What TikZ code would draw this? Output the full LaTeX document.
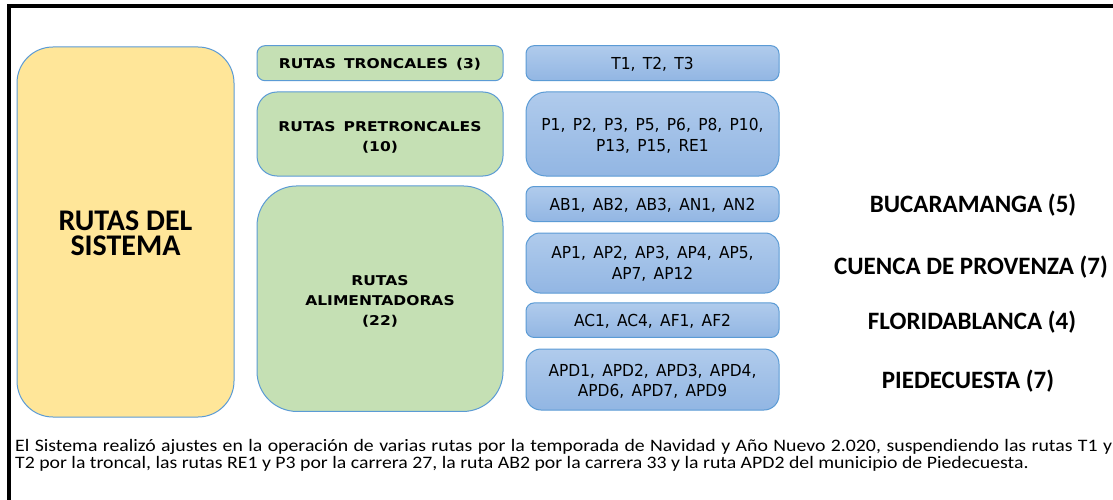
\documentclass[tikz,border=0pt]{standalone}
\usepackage{fontspec}
\setmainfont{Carlito}
\newfontfamily\notefont[FakeStretch=1.13]{Carlito}
\newfontfamily\headfont[WordSpace=1.5,FakeStretch=1.15]{DejaVu Sans}
\newfontfamily\listfont[WordSpace=1.5,FakeStretch=1.04]{DejaVu Sans Condensed}
\definecolor{yel}{HTML}{FFE699}
\definecolor{grn}{HTML}{C5E0B4}
\definecolor{bord}{HTML}{5B9BD5}
\definecolor{blueT}{HTML}{B0CBEC}
\definecolor{blueB}{HTML}{92B6E3}
\begin{document}
\begin{tikzpicture}[x=1pt,y=-1pt,
 box/.style={draw=bord, line width=1pt, inner sep=0pt},
 ybox/.style={box, fill=yel},
 gbox/.style={box, fill=grn, minimum width=246pt},
 bbox/.style={box, top color=blueT, bottom color=blueB, minimum width=253pt},
 ytext/.style={inner sep=0pt, text height=19.5pt, text depth=0pt, font=\bfseries\fontsize{30}{25}\selectfont},
 gtext/.style={inner sep=0pt, align=center, font=\headfont\bfseries\fontsize{13.5}{20}\selectfont},
 btext/.style={inner sep=0pt, align=center, font=\listfont\fontsize{16.5}{20.5}\selectfont},
 city/.style={font=\bfseries\fontsize{25}{28}\selectfont, inner sep=0pt},
 note/.style={font=\notefont\fontsize{17.5}{18.3}\selectfont, inner sep=0pt, anchor=base west}]
\useasboundingbox (0,0) rectangle (1113,500);
\fill[white] (0,0) rectangle (1113,500);
\draw[line width=3.8pt] (1113,5.8) -- (8.9,5.8) -- (8.9,500);
% yellow
\node[ybox, rounded corners=36pt, minimum width=217pt, minimum height=370pt] (sys) at (125.5,232) {};
\node[ytext] (syst1) at (125.5,220.5) {RUTAS DEL};
\node[ytext] (syst2) at (125.5,245.5) {SISTEMA};
% green
\node[gbox, rounded corners=8pt, minimum height=35pt] (tro) at (380,63.2) {};
\node[gbox, rounded corners=20pt, minimum height=84pt] (pre) at (380,134) {};
\node[gbox, rounded corners=40pt, minimum height=225.5pt] (ali) at (380,298.7) {};
\node[gtext, yshift=-1pt] (trot) at (tro) {RUTAS TRONCALES (3)};
\node[gtext, yshift=-3pt] (pret) at (pre) {RUTAS PRETRONCALES\\(10)};
\node[gtext, yshift=-3pt] (alit) at (ali) {RUTAS\\ALIMENTADORAS\\(22)};
% blue
\node[bbox, rounded corners=8pt, minimum height=35pt] (bt) at (652.5,63.2) {};
\node[bbox, rounded corners=20pt, minimum height=84pt] (bp) at (652.5,134) {};
\node[bbox, rounded corners=8pt, minimum height=35pt] (bab) at (652.5,204) {};
\node[bbox, rounded corners=14pt, minimum height=60pt] (bap) at (652.5,263) {};
\node[bbox, rounded corners=8pt, minimum height=34.5pt] (bac) at (652.5,320.2) {};
\node[bbox, rounded corners=15pt, minimum height=61pt] (bapd) at (652.5,379.5) {};
\node[btext, yshift=-1.5pt] (btt) at (bt) {T1, T2, T3};
\node[btext, yshift=-2pt] (bpt) at (bp) {P1, P2, P3, P5, P6, P8, P10,\\P13, P15, RE1};
\node[btext, yshift=-1pt] (babt) at (bab) {AB1, AB2, AB3, AN1, AN2};
\node[btext, yshift=-1pt] (bapt) at (bap) {AP1, AP2, AP3, AP4, AP5,\\AP7, AP12};
\node[btext, yshift=-1.5pt] (bact) at (bac) {AC1, AC4, AF1, AF2};
\node[btext, yshift=-2pt] (bapdt) at (bapd) {APD1, APD2, APD3, APD4,\\APD6, APD7, APD9};
% cities
\node[city] (c1) at (973,205) {BUCARAMANGA (5)};
\node[city] (c2) at (971,267) {CUENCA DE PROVENZA (7)};
\node[city] (c3) at (972,322) {FLORIDABLANCA (4)};
\node[city] (c4) at (968,381) {PIEDECUESTA (7)};
% note
\node[note] (n1) at (15,451) {\hbox to 1097pt{El Sistema realizó ajustes en la operación de varias rutas por la temporada de Navidad y Año Nuevo 2.020, suspendiendo las rutas T1 y}};
\node[note] (n2) at (15,468.7) {T2 por la troncal, las rutas RE1 y P3 por la carrera 27, la ruta AB2 por la carrera 33 y la ruta APD2 del municipio de Piedecuesta.};
\end{tikzpicture}
\end{document}
